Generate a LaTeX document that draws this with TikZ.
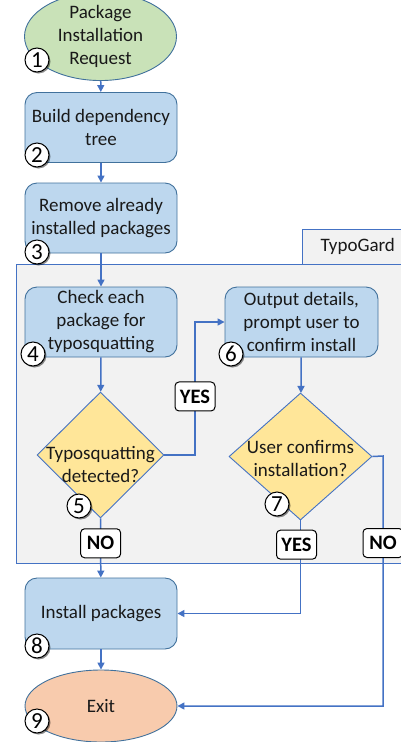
\documentclass[tikz,border=0pt]{standalone}
\usepackage{fontspec}
\setmainfont{Carlito}
\usetikzlibrary{shapes.geometric,arrows.meta,shadows}

\definecolor{lineblue}{HTML}{4472C4}
\definecolor{edgeblue}{HTML}{41719C}
\definecolor{boxblue}{HTML}{BDD7EE}
\definecolor{startgreen}{HTML}{C9E2B8}
\definecolor{exitorange}{HTML}{F8CBAD}
\definecolor{decyellow}{HTML}{FFE699}
\definecolor{panelgray}{HTML}{F2F2F2}

\begin{document}
\begin{tikzpicture}[x=1pt,y=-1pt,
        txt/.style={font=\fontsize{19}{23}\selectfont, text=black!90, align=center},
        terminal/.style={txt, ellipse, draw=edgeblue, line width=0.9pt, minimum width=152pt, minimum height=73pt, inner sep=0pt},
        process/.style={txt, rectangle, rounded corners=12pt, draw=edgeblue, fill=boxblue, line width=0.9pt, minimum width=152pt, minimum height=70pt, inner sep=0pt},
        decision/.style={diamond, draw=lineblue, fill=decyellow, line width=0.9pt, inner sep=0pt},
        stepnum/.style={circle, draw=black, fill=white, line width=1pt, minimum size=24pt, inner sep=0pt, font=\fontsize{23}{23}\selectfont,
            drop shadow={shadow xshift=1.5pt, shadow yshift=-1.5pt, fill=black, opacity=0.45}},
        answer/.style={draw=black, fill=white, rounded corners=4pt, line width=1pt, font=\bfseries\fontsize{20.5}{20.5}\selectfont, minimum width=40pt, minimum height=29pt, inner sep=2pt},
        flow/.style={draw=lineblue, line width=1.5pt, -{Triangle[length=7pt,width=7pt]}}
    ]
        \useasboundingbox (0,0) rectangle (401,742);

        % TypoGard panel
        \filldraw[fill=panelgray, draw=lineblue, line width=0.9pt] (16,264) rectangle (412,563);
        \fill[panelgray] (302,229) rectangle (412,264);
        \draw[lineblue, line width=0.9pt] (302,264) -- (302,229) -- (412,229);
        \node[txt, anchor=west] (panel) at (317,246) {TypoGard};

        % main column
        \node[terminal, fill=startgreen] (req) at (100.5,36.5) {Package\\Installation\\Request};
        \node[process] (build) at (101,127.5) {Build dependency\\tree};
        \node[process] (remove) at (101,218) {Remove already\\installed packages};
        \node[process] (check) at (101,322) {Check each\\package for\\typosquatting};
        \node[decision, minimum width=127pt, minimum height=126pt] (detect) at (100.5,455) {};
        \node[txt] (detect-txt) at (100.5,464) {Typosquatting\\detected?};
        \node[process, minimum height=71pt] (install) at (101,613.5) {Install packages};
        \node[terminal, fill=exitorange, minimum height=72pt] (exit) at (101,706) {Exit};

        % right column
        \node[process, minimum width=153pt] (output) at (301.5,322) {Output details,\\prompt user to\\confirm install};
        \node[decision, minimum width=143pt, minimum height=127pt] (confirm) at (300.5,456.5) {};
        \node[txt] (confirm-txt) at (300.5,458) {User confirms\\installation?};

        \coordinate (yesturn) at (195,455);
        \coordinate (noturn) at (383,456);

        % connectors
        \draw[flow] (req) -- (build);
        \draw[flow] (build) -- (remove);
        \draw[flow] (remove) -- (check);
        \draw[flow] (check) -- (detect);
        \draw[flow] (detect.south) -- node[answer, pos=0.42] {NO} (install);
        \draw[flow] (install) -- (exit);
        \draw[flow] (detect.east) -- (yesturn) |- node[answer, pos=0.22] {YES} (output.west);
        \draw[flow] (output) -- (confirm);
        \draw[flow] (confirm.south) |- node[answer, pos=0.13, xshift=-4pt] {YES} (install.east);
        \draw[flow] (confirm.east) -- (noturn) |- node[answer, pos=0.174] {NO} (exit.east);

        % step numbers
        \node[stepnum] (n1) at (37,60) {1};
        \node[stepnum] (n2) at (37,155) {2};
        \node[stepnum] (n3) at (37,252) {3};
        \node[stepnum] (n4) at (33,354) {4};
        \node[stepnum] (n5) at (79,506) {5};
        \node[stepnum] (n6) at (231,354) {6};
        \node[stepnum] (n7) at (277,504) {7};
        \node[stepnum] (n8) at (37,646) {8};
        \node[stepnum] (n9) at (37,721) {9};
    \end{tikzpicture}
\end{document}
